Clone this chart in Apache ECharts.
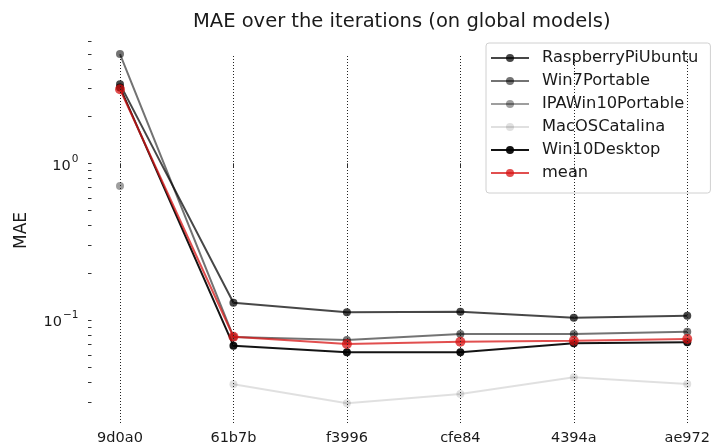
<!DOCTYPE html>
<html>
<head>
<meta charset="utf-8">
<script src="https://cdn.jsdelivr.net/npm/echarts@6/dist/echarts.min.js"></script>
<style>
  html, body { margin: 0; padding: 0; background: #fff; }
  #chart { width: 713px; height: 448px; }
</style>
</head>
<body>
<div id="chart"></div>
<script>
// data (MAE, log scale); null = no value for that iteration
const categories = ['9d0a0', '61b7b', 'f3996', 'cfe84', '4394a', 'ae972'];
const raspberryPiUbuntu = [3.2, 0.129, 0.112, 0.113, 0.1035, 0.1066];
const win7Portable = [4.98, 0.078, 0.0745, 0.0814, 0.0814, 0.0842];
const ipaWin10Portable = [0.716, null, null, null, null, null];
const macOSCatalina = [null, 0.0389, 0.0294, 0.0337, 0.0431, 0.0391];
const win10Desktop = [3.05, 0.0686, 0.0622, 0.0622, 0.071, 0.0721];
const meanMAE = [2.97, 0.0782, 0.0703, 0.0727, 0.0738, 0.0756];

const yTickValues = [0.03, 0.04, 0.05, 0.06, 0.07, 0.08, 0.09,
  0.1, 0.2, 0.3, 0.4, 0.5, 0.6, 0.7, 0.8, 0.9, 1, 2, 3, 4, 5, 6];
const yLabelValues = [0.1, 1];

const FONT = 'DejaVu Sans';
const lg = v => (v == null ? null : Math.log10(v));

// y axis is drawn in log10 space
const yMin = -1.657;
const yMax = 0.7996;
const allVals = [].concat(raspberryPiUbuntu, win7Portable, ipaWin10Portable,
  macOSCatalina, win10Desktop, meanMAE).filter(v => v != null);
const yTop = lg(Math.max.apply(null, allVals));

function expLabel(v) {
  const e = Math.round(v);
  return '{b|10}{s|' + (e < 0 ? '\u2212' + (-e) : e) + '}';
}

function mkSeries(name, values, color, size, z) {
  return {
    name: name,
    type: 'line',
    data: values.map(lg),
    symbol: 'circle',
    symbolSize: size,
    showSymbol: true,
    connectNulls: false,
    z: z,
    lineStyle: { color: color, width: 2 },
    itemStyle: { color: color },
    emphasis: { disabled: true }
  };
}

var myChart = echarts.init(document.getElementById('chart'));
myChart.setOption({
  animation: false,
  backgroundColor: '#fff',
  textStyle: { fontFamily: FONT },
  title: {
    text: 'MAE over the iterations (on global models)',
    left: 188,
    top: 7,
    textStyle: { fontFamily: FONT, fontSize: 19.5, fontWeight: 'normal', color: '#1a1a1a' }
  },
  grid: { left: 120, right: 23, top: 38, bottom: 25 },
  legend: {
    orient: 'vertical',
    left: 486,
    top: 43,
    padding: [7, 12, 12, 4],
    itemWidth: 38,
    itemHeight: 10,
    itemGap: 7,
    backgroundColor: 'rgba(255,255,255,0.8)',
    borderColor: '#d0d0d0',
    borderWidth: 1,
    borderRadius: 3,
    textStyle: { fontFamily: FONT, fontSize: 16.3, color: '#1a1a1a', lineHeight: 16, padding: [0, 0, 0, 8] },
    data: ['RaspberryPiUbuntu', 'Win7Portable', 'IPAWin10Portable', 'MacOSCatalina', 'Win10Desktop', 'mean']
  },
  xAxis: {
    type: 'category',
    data: categories,
    boundaryGap: false,
    axisLine: { show: false },
    axisTick: { show: true, length: 4, alignWithLabel: true, lineStyle: { color: '#333' } },
    axisLabel: { fontFamily: FONT, fontSize: 14.5, color: '#1a1a1a', margin: 8 },
    splitLine: { show: false }
  },
  yAxis: {
    type: 'value',
    min: yMin,
    max: yMax,
    offset: 28.5,
    name: 'MAE',
    nameLocation: 'middle',
    nameGap: 61,
    nameTextStyle: { fontFamily: FONT, fontSize: 17, color: '#1a1a1a' },
    axisLine: { show: false },
    axisTick: {
      show: true, length: 3.5, customValues: yTickValues.map(lg),
      lineStyle: { color: '#333' }
    },
    axisLabel: {
      customValues: yLabelValues.map(lg),
      formatter: expLabel,
      margin: 13,
      rich: {
        b: { fontFamily: FONT, fontSize: 14.5, color: '#1a1a1a', lineHeight: 20, verticalAlign: 'bottom' },
        s: { fontFamily: FONT, fontSize: 10.5, color: '#1a1a1a', lineHeight: 20, verticalAlign: 'top', padding: [0, 0, 0, 1] }
      }
    },
    splitLine: { show: false }
  },
  series: [
    {
      type: 'line',
      data: [],
      silent: true,
      z: 1,
      markLine: {
        silent: true,
        symbol: ['none', 'none'],
        label: { show: false },
        lineStyle: { type: [1, 2], color: '#222', width: 1 },
        emphasis: { disabled: true },
        data: categories.map(c => [{ coord: [c, yMin] }, { coord: [c, yTop] }])
      }
    },
    mkSeries('RaspberryPiUbuntu', raspberryPiUbuntu, 'rgba(0,0,0,0.72)', 8, 3),
    mkSeries('Win7Portable', win7Portable, 'rgba(0,0,0,0.55)', 8, 3),
    mkSeries('IPAWin10Portable', ipaWin10Portable, 'rgba(0,0,0,0.38)', 8, 3),
    mkSeries('MacOSCatalina', macOSCatalina, 'rgba(0,0,0,0.12)', 8, 3),
    mkSeries('Win10Desktop', win10Desktop, 'rgba(0,0,0,0.92)', 8, 3),
    mkSeries('mean', meanMAE, 'rgba(215,20,20,0.75)', 10, 4)
  ]
});
</script>
</body>
</html>
